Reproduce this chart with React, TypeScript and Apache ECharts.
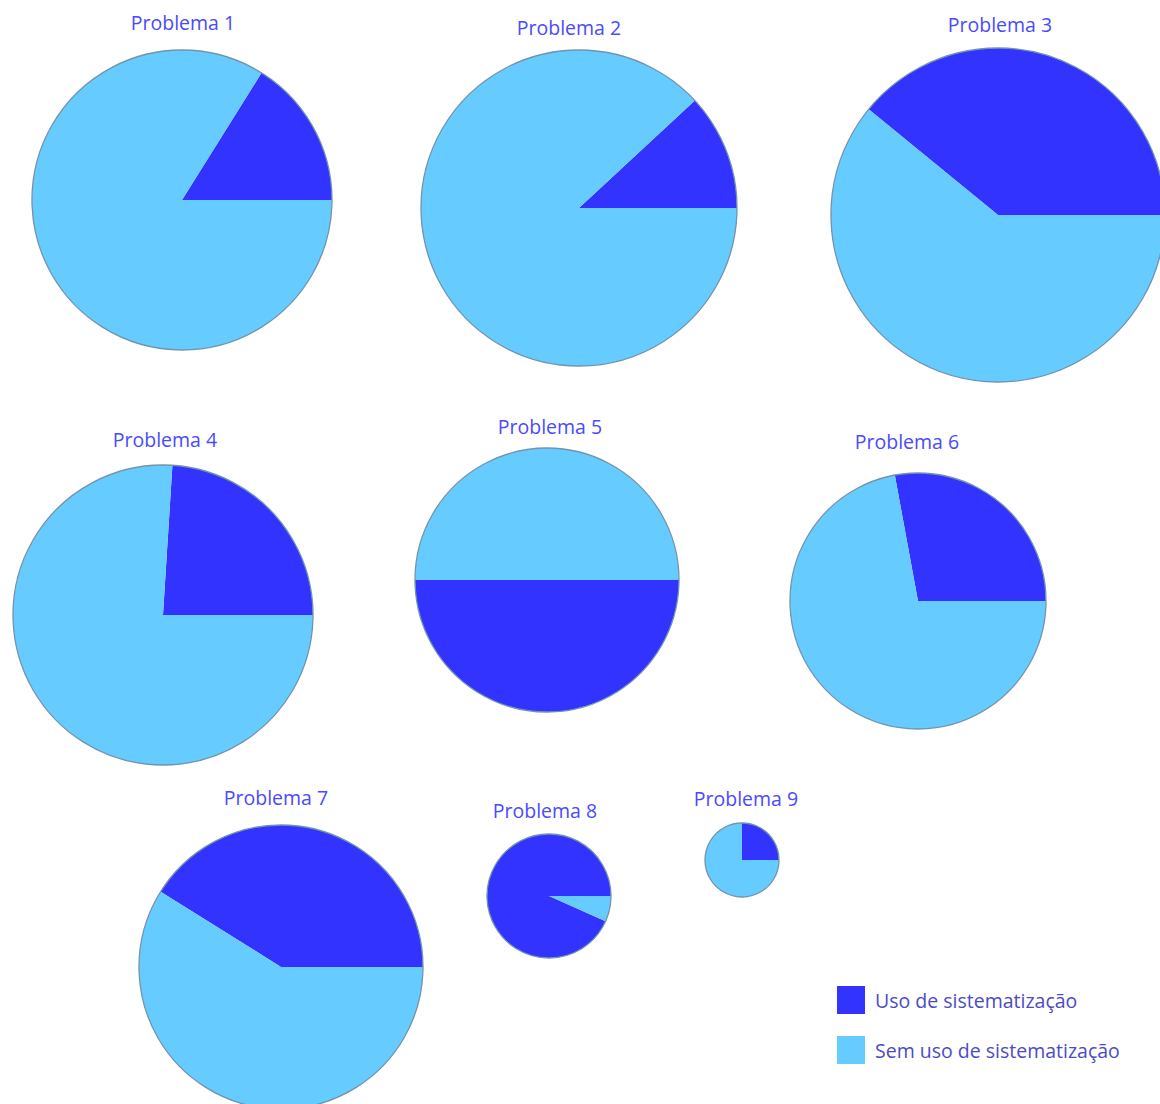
import React, { useEffect, useRef } from "react";
import * as echarts from "echarts";

const problemNames = [
  "Problema 1", "Problema 2", "Problema 3",
  "Problema 4", "Problema 5", "Problema 6",
  "Problema 7", "Problema 8", "Problema 9",
];
const categoryNames = ["Uso de sistematização", "Sem uso de sistematização"];
// percentage with systematization (dark slice)
const usoValues = [16.1, 11.9, 39.1, 24.0, 50.0, 27.9, 41.1, 93.3, 25.0];
// percentage without systematization (light slice)
const semUsoValues = [83.9, 88.1, 60.9, 76.0, 50.0, 72.1, 58.9, 6.7, 75.0];

// layout (pixels / degrees)
const pieCenters: [number, number][] = [
  [182, 200], [579, 208], [998, 215],
  [163, 615], [547, 580], [918, 601],
  [281, 967], [549, 896], [742, 860],
];
const pieRadii = [150, 158, 167, 150, 132, 128, 142, 62, 37];
const pieStartAngles = [0, 0, 0, 0, 180, 0, 0, 0, 0];
const titlePositions: [number, number][] = [
  [183, 22], [569, 27], [1000, 24],
  [165, 439], [550, 426], [907, 441],
  [276, 797], [545, 810], [746, 798],
];

const DARK = "#3333ff";
const LIGHT = "#66ccff";
const OUTLINE = "#7293ae";
const TITLE_COLOR = "#4a4aff";
const LEGEND_TEXT = "#4b4bc6";
const FONT = "'Open Sans', 'Noto Sans', sans-serif";

export default function App() {
  const ref = useRef<HTMLDivElement>(null);

  useEffect(() => {
    if (!ref.current) return;
    const chart = echarts.init(ref.current, undefined, { renderer: "svg" });

    const series: any[] = [];
    problemNames.forEach((name, i) => {
      series.push({
        type: "pie",
        name,
        center: pieCenters[i],
        radius: [0, pieRadii[i]],
        startAngle: pieStartAngles[i],
        clockwise: false,
        label: { show: false },
        labelLine: { show: false },
        emphasis: { disabled: true },
        itemStyle: { borderWidth: 0 },
        data: [
          { name: categoryNames[0], value: usoValues[i], itemStyle: { color: DARK } },
          { name: categoryNames[1], value: semUsoValues[i], itemStyle: { color: LIGHT } },
        ],
      });
      // outline ring
      series.push({
        type: "pie",
        name: name + " outline",
        center: pieCenters[i],
        radius: [0, pieRadii[i]],
        silent: true,
        label: { show: false },
        labelLine: { show: false },
        emphasis: { disabled: true },
        data: [
          {
            name: "",
            value: 1,
            itemStyle: { color: "rgba(0,0,0,0)", borderColor: OUTLINE, borderWidth: 1.3 },
          },
        ],
      });
    });

    const graphic = problemNames.map((name, i) => ({
      type: "text",
      x: titlePositions[i][0],
      y: titlePositions[i][1],
      style: {
        text: name,
        fill: TITLE_COLOR,
        font: `19.5px ${FONT}`,
        textAlign: "center",
        textVerticalAlign: "middle",
      },
    }));

    chart.setOption({
      animation: false,
      backgroundColor: "#ffffff",
      legend: {
        data: categoryNames,
        orient: "vertical",
        left: 837,
        top: 986,
        padding: 0,
        itemWidth: 28,
        itemHeight: 28,
        itemGap: 22,
        icon: "rect",
        selectedMode: false,
        textStyle: {
          color: LEGEND_TEXT,
          fontSize: 19.5,
          fontFamily: FONT,
          padding: [0, 0, 0, 5],
        },
      },
      graphic,
      series,
    });

    return () => chart.dispose();
  }, []);

  return (
    <div
      ref={ref}
      style={{ position: "fixed", left: 0, top: 0, width: 1160, height: 1104 }}
    />
  );
}
